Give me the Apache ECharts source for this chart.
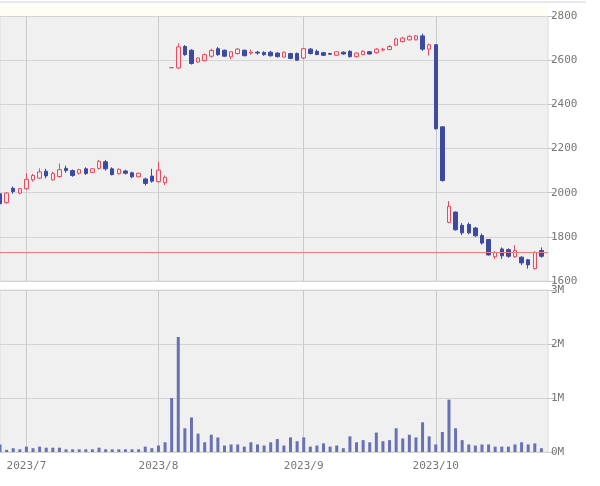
<!DOCTYPE html>
<html>
<head>
<meta charset="utf-8">
<script src="https://cdn.jsdelivr.net/npm/echarts@6/dist/echarts.min.js"></script>
<style>
	html, body { margin: 0; padding: 0; background: #fff; }
	#chart { width: 600px; height: 486px; }
</style>
</head>
<body>
<div id="chart"></div>
<script>
	// trading days, Jun 27 .. Oct 25 2023 (one empty slot at the end)
	var dates = [
		'2023/6/27', '2023/6/28', '2023/6/29', '2023/6/30',
		'2023/7/3', '2023/7/4', '2023/7/5', '2023/7/6', '2023/7/7', '2023/7/10', '2023/7/11', '2023/7/12', '2023/7/13', '2023/7/14',
		'2023/7/18', '2023/7/19', '2023/7/20', '2023/7/21', '2023/7/24', '2023/7/25', '2023/7/26', '2023/7/27', '2023/7/28', '2023/7/31',
		'2023/8/1', '2023/8/2', '2023/8/3', '2023/8/4', '2023/8/7', '2023/8/8', '2023/8/9', '2023/8/10', '2023/8/14', '2023/8/15',
		'2023/8/16', '2023/8/17', '2023/8/18', '2023/8/21', '2023/8/22', '2023/8/23', '2023/8/24', '2023/8/25', '2023/8/28', '2023/8/29',
		'2023/8/30', '2023/8/31',
		'2023/9/1', '2023/9/4', '2023/9/5', '2023/9/6', '2023/9/7', '2023/9/8', '2023/9/11', '2023/9/12', '2023/9/13', '2023/9/14',
		'2023/9/15', '2023/9/19', '2023/9/20', '2023/9/21', '2023/9/22', '2023/9/25', '2023/9/26', '2023/9/27', '2023/9/28', '2023/9/29',
		'2023/10/2', '2023/10/3', '2023/10/4', '2023/10/5', '2023/10/6', '2023/10/10', '2023/10/11', '2023/10/12', '2023/10/13',
		'2023/10/16', '2023/10/17', '2023/10/18', '2023/10/19', '2023/10/20', '2023/10/23', '2023/10/24', '2023/10/25', '2023/10/26'
	];

	// [open, close, low, high]
	var candles = [
		[1995, 1950, 1945, 2000], [1955, 1998, 1950, 2002], [2020, 2005, 1995, 2028], [1998, 2018, 1992, 2022],
		[2018, 2060, 2012, 2088], [2058, 2078, 2050, 2085], [2066, 2094, 2062, 2110], [2097, 2076, 2065, 2108],
		[2058, 2087, 2055, 2095], [2073, 2104, 2068, 2132], [2110, 2100, 2090, 2122], [2100, 2078, 2072, 2105],
		[2088, 2104, 2082, 2108], [2108, 2087, 2080, 2115], [2092, 2108, 2088, 2112], [2110, 2142, 2105, 2148],
		[2140, 2108, 2100, 2148], [2108, 2082, 2078, 2115], [2086, 2106, 2082, 2110], [2098, 2088, 2082, 2104],
		[2090, 2072, 2065, 2095], [2072, 2088, 2070, 2090], [2062, 2042, 2032, 2068], [2075, 2052, 2045, 2108],
		[2050, 2102, 2045, 2140], [2045, 2070, 2035, 2078], [2566, 2566, 2566, 2566], [2565, 2660, 2560, 2676],
		[2662, 2625, 2620, 2668], [2645, 2585, 2580, 2650], [2592, 2610, 2588, 2612], [2598, 2625, 2595, 2630],
		[2618, 2644, 2612, 2652], [2652, 2625, 2620, 2660], [2645, 2618, 2615, 2648], [2615, 2638, 2605, 2640],
		[2630, 2650, 2625, 2655], [2645, 2620, 2618, 2648], [2632, 2636, 2625, 2648], [2636, 2632, 2625, 2642],
		[2635, 2625, 2620, 2640], [2636, 2620, 2616, 2642], [2632, 2616, 2612, 2636], [2614, 2636, 2612, 2640],
		[2630, 2608, 2605, 2633], [2630, 2600, 2598, 2635], [2610, 2652, 2605, 2656], [2650, 2630, 2626, 2655],
		[2640, 2626, 2622, 2648], [2634, 2622, 2620, 2638], [2630, 2627, 2624, 2633], [2622, 2638, 2620, 2640],
		[2636, 2628, 2625, 2640], [2640, 2616, 2612, 2645], [2616, 2632, 2612, 2636], [2626, 2640, 2622, 2645],
		[2638, 2628, 2625, 2642], [2634, 2650, 2630, 2655], [2646, 2650, 2640, 2656], [2648, 2662, 2645, 2668],
		[2668, 2696, 2664, 2702], [2684, 2700, 2680, 2706], [2692, 2708, 2688, 2712], [2692, 2710, 2690, 2714],
		[2710, 2650, 2642, 2720], [2650, 2670, 2621, 2675], [2670, 2290, 2285, 2672], [2298, 2055, 2050, 2300],
		[1865, 1938, 1862, 1962], [1912, 1832, 1828, 1915], [1852, 1818, 1808, 1862], [1856, 1818, 1812, 1865],
		[1840, 1805, 1800, 1845], [1806, 1772, 1765, 1815], [1788, 1718, 1715, 1790], [1710, 1730, 1700, 1735],
		[1745, 1714, 1700, 1752], [1742, 1712, 1705, 1748], [1710, 1738, 1705, 1762], [1708, 1682, 1672, 1712],
		[1696, 1673, 1656, 1700], [1656, 1730, 1652, 1735], [1738, 1712, 1705, 1752]
	];

	// volume, millions of shares
	var volumes = [
		0.14, 0.04, 0.07, 0.05, 0.10, 0.07, 0.10, 0.08, 0.08, 0.08, 0.05, 0.05, 0.05, 0.05, 0.05, 0.08,
		0.05, 0.05, 0.05, 0.05, 0.05, 0.05, 0.10, 0.07, 0.12, 0.18, 1.00, 2.13, 0.44, 0.64, 0.34, 0.18,
		0.32, 0.27, 0.12, 0.14, 0.14, 0.10, 0.18, 0.14, 0.12, 0.18, 0.24, 0.12, 0.27, 0.20, 0.27, 0.10,
		0.12, 0.16, 0.10, 0.12, 0.07, 0.29, 0.18, 0.22, 0.18, 0.36, 0.20, 0.22, 0.44, 0.25, 0.32, 0.27,
		0.55, 0.29, 0.14, 0.37, 0.97, 0.44, 0.22, 0.14, 0.12, 0.14, 0.14, 0.10, 0.10, 0.10, 0.14, 0.18,
		0.14, 0.16, 0.07
	];

	var priceLine = 1730;
	var priceTicks = [1600, 2800, 200];
	var volumeTicks = [0, 3, 1];

	var font = 'DejaVu Sans Mono';
	var labelColor = '#777';
	var gridColor = '#d4d4d4';

	function isMonthStart(index) {
		if (index === 0 || !dates[index]) return false;
		return dates[index].split('/')[1] !== dates[index - 1].split('/')[1];
	}
	function monthLabel(value) {
		var p = value.split('/');
		return p[0] + '/' + p[1];
	}

	var myChart = echarts.init(document.getElementById('chart'));
	var option = {
		animation: false,
		backgroundColor: '#fff',
		graphic: [
			{ type: 'rect', shape: { x: 0, y: 3, width: 548, height: 13 }, style: { fill: '#fefef5' } },
			{ type: 'line', shape: { x1: 0, y1: 2, x2: 586, y2: 2 }, style: { stroke: '#cfcfea', lineWidth: 1 } }
		],
		grid: [
			{ left: 0, top: 16, width: 548, height: 265, show: true, backgroundColor: '#f0f0f0', borderColor: '#dcdcdc', borderWidth: 1 },
			{ left: 0, top: 290, width: 548, height: 162, show: true, backgroundColor: '#f0f0f0', borderColor: '#dcdcdc', borderWidth: 1 }
		],
		xAxis: [
			{
				type: 'category', gridIndex: 0, data: dates, boundaryGap: false,
				axisLine: { show: false }, axisTick: { show: false }, axisLabel: { show: false },
				splitLine: { show: true, interval: isMonthStart, lineStyle: { color: '#cacaca' } }
			},
			{
				type: 'category', gridIndex: 1, data: dates, boundaryGap: false,
				axisLine: { show: false }, axisTick: { show: false },
				axisLabel: {
					interval: isMonthStart, formatter: monthLabel, margin: 9,
					fontFamily: font, fontSize: 11, color: labelColor
				},
				splitLine: { show: true, interval: isMonthStart, lineStyle: { color: '#cacaca' } }
			}
		],
		yAxis: [
			{
				type: 'value', gridIndex: 0, position: 'right',
				min: priceTicks[0], max: priceTicks[1], interval: priceTicks[2],
				axisLine: { show: false },
				axisTick: { show: true, length: 7, lineStyle: { color: '#c4c4c4' } },
				axisLabel: {
					margin: 3, fontFamily: font, fontSize: 11, color: labelColor,
					formatter: function (v) { return String(v); }
				},
				splitLine: { lineStyle: { color: gridColor } }
			},
			{
				type: 'value', gridIndex: 1, position: 'right',
				min: volumeTicks[0], max: volumeTicks[1], interval: volumeTicks[2],
				axisLine: { show: false },
				axisTick: { show: true, length: 7, lineStyle: { color: '#c4c4c4' } },
				axisLabel: { margin: 3, fontFamily: font, fontSize: 11, color: labelColor, formatter: '{value}M' },
				splitLine: { lineStyle: { color: gridColor } }
			}
		],
		series: [
			{
				type: 'candlestick',
				xAxisIndex: 0,
				yAxisIndex: 0,
				data: candles,
				barWidth: 4,
				itemStyle: {
					color: '#fde9eb',
					color0: '#3d4aa2',
					borderColor: '#ea4a5d',
					borderColor0: '#3d4aa2',
					borderWidth: 1
				},
				markLine: {
					silent: true,
					symbol: 'none',
					label: { show: false },
					lineStyle: { color: '#f07b7b', type: 'solid', width: 1 },
					data: [{ yAxis: priceLine }]
				}
			},
			{
				type: 'bar',
				xAxisIndex: 1,
				yAxisIndex: 1,
				data: volumes,
				barWidth: 3,
				itemStyle: { color: '#6971b5' }
			}
		]
	};
	myChart.setOption(option);
</script>
</body>
</html>
